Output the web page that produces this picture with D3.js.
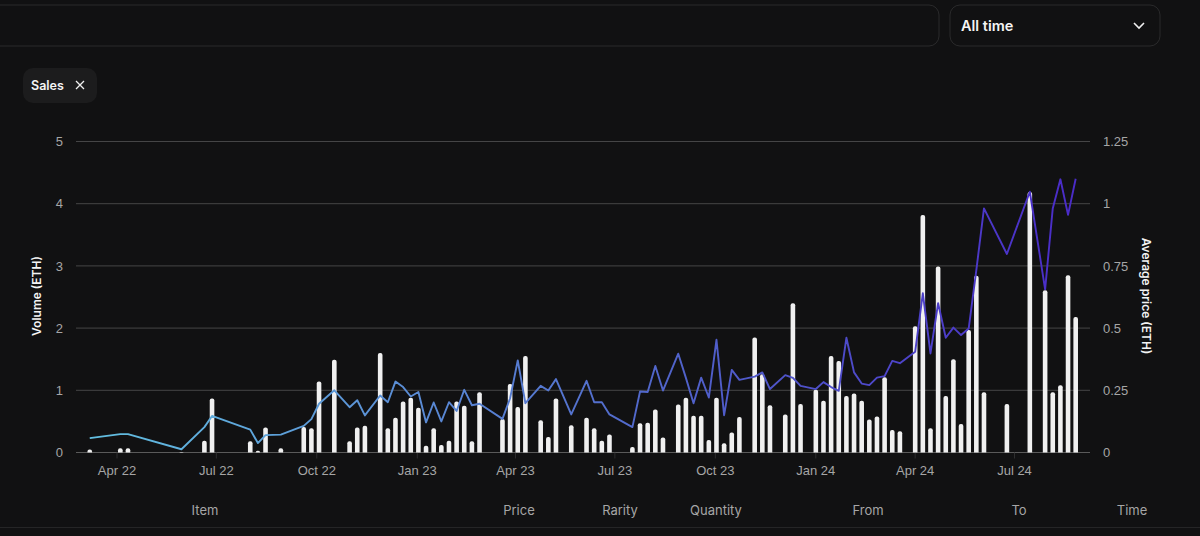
<!DOCTYPE html>
<html>
<head>
<meta charset="utf-8">
<script src="https://cdn.jsdelivr.net/npm/d3@7"></script>
<style>
  html, body { margin: 0; padding: 0; background: #111112; overflow: hidden; }
  svg { display: block; font-family: Inter, "Noto Sans", sans-serif; }
</style>
</head>
<body>
<script>
// weeks counted from the first sale (7 Mar 22)
var firstWeek = new Date(Date.UTC(2022, 2, 7, 12));

var weeks = [
  0, 4, 5, 12, 15, 16, 21, 22, 23, 25,
  28, 29, 30, 32, 34, 35, 36, 38, 39, 40,
  41, 42, 43, 44, 45, 46, 47, 48, 49, 50,
  51, 54, 55, 56, 57, 59, 60, 61, 63, 65,
  66, 67, 68, 71, 72, 73, 74, 75, 77, 78,
  79, 80, 81, 82, 83, 84, 85, 87, 88, 89,
  91, 92, 93, 95, 96, 97, 98, 99, 100, 101,
  102, 103, 104, 105, 106, 108, 109, 110, 111, 112,
  113, 114, 115, 116, 117, 120, 123, 125, 126, 127,
  128, 129
];

var volume = [
  0.05, 0.07, 0.07, 0.01, 0.19, 0.87, 0.18, 0.03, 0.40, 0.07,
  0.41, 0.39, 1.14, 1.49, 0.18, 0.40, 0.43, 1.60, 0.39, 0.56,
  0.82, 0.88, 0.72, 0.11, 0.39, 0.12, 0.19, 0.82, 0.75, 0.18,
  0.97, 0.54, 1.10, 0.73, 1.55, 0.52, 0.25, 0.87, 0.44, 0.56,
  0.39, 0.19, 0.29, 0.09, 0.47, 0.48, 0.69, 0.24, 0.77, 0.88,
  0.59, 0.59, 0.20, 0.88, 0.15, 0.32, 0.57, 1.85, 1.26, 0.76,
  0.61, 2.40, 0.78, 1.01, 0.83, 1.55, 1.47, 0.91, 0.95, 0.83,
  0.53, 0.58, 1.21, 0.36, 0.34, 2.03, 3.82, 0.39, 2.99, 0.91,
  1.50, 0.46, 1.97, 2.84, 0.97, 0.78, 4.19, 2.61, 0.97, 1.08,
  2.85, 2.18
];

var avgPrice = [
  0.058, 0.074, 0.074, 0.013, 0.102, 0.147, 0.092, 0.038, 0.070, 0.072,
  0.107, 0.134, 0.196, 0.250, 0.182, 0.210, 0.149, 0.229, 0.202, 0.285,
  0.263, 0.225, 0.243, 0.121, 0.201, 0.125, 0.202, 0.167, 0.252, 0.190,
  0.196, 0.135, 0.218, 0.370, 0.198, 0.268, 0.249, 0.295, 0.153, 0.288,
  0.202, 0.202, 0.153, 0.102, 0.245, 0.243, 0.348, 0.249, 0.397, 0.300,
  0.198, 0.301, 0.221, 0.453, 0.150, 0.332, 0.292, 0.305, 0.322, 0.255,
  0.311, 0.300, 0.268, 0.255, 0.283, 0.263, 0.248, 0.461, 0.322, 0.277,
  0.271, 0.301, 0.307, 0.368, 0.359, 0.405, 0.640, 0.398, 0.600, 0.461,
  0.502, 0.472, 0.498, 0.733, 0.981, 0.798, 1.048, 0.656, 0.981, 1.098,
  0.955, 1.100
];

var monthTicks = ["2022-04-01", "2022-07-01", "2022-10-01", "2023-01-01", "2023-04-01",
  "2023-07-01", "2023-10-01", "2024-01-01", "2024-04-01", "2024-07-01"];
var volumeTicks = [0, 1, 2, 3, 4, 5];
var priceTicks = [0, 0.25, 0.5, 0.75, 1, 1.25];

var columnNames = ["Item", "Price", "Rarity", "Quantity", "From", "To", "Time"];
var columnX = [205, 519, 620, 716, 868, 1019, 1132];

var w = 1200,
    h = 536,
    left = 76,
    right = 1090,
    top_ = 141.5,
    bottom = 452.5,
    barWidth = 4.6;

var rows = weeks.map(function(k, i) {
  return { date: d3.utcDay.offset(firstWeek, k * 7), volume: volume[i], price: avgPrice[i] };
});

var x = d3.scaleUtc()
    .domain([new Date("2022-04-01"), new Date("2024-07-01")])
    .range([116.5, 1014]);
var yVol = d3.scaleLinear().domain([0, 5]).range([bottom, top_]);
var yPrice = d3.scaleLinear().domain([0, 1.25]).range([bottom, top_]);

var svg = d3.select("body").append("svg")
    .attr("width", w)
    .attr("height", h);

var defs = svg.append("defs");
var grad = defs.append("linearGradient")
    .attr("id", "lineColor")
    .attr("gradientUnits", "userSpaceOnUse")
    .attr("x1", 89).attr("x2", 1075).attr("y1", 0).attr("y2", 0);
grad.append("stop").attr("offset", "0").attr("stop-color", "#62bfe0");
grad.append("stop").attr("offset", "0.3").attr("stop-color", "#5b90d6");
grad.append("stop").attr("offset", "0.6").attr("stop-color", "#5062ca");
grad.append("stop").attr("offset", "1").attr("stop-color", "#4a2bc8");
defs.append("clipPath").attr("id", "plotClip")
  .append("rect").attr("x", left).attr("y", 0).attr("width", right - left).attr("height", bottom);

// page furniture
svg.append("rect").attr("x", -20).attr("y", 5).attr("width", 959).attr("height", 41).attr("rx", 10)
    .attr("fill", "none").attr("stroke", "#2a2a2b");
svg.append("rect").attr("x", 950).attr("y", 5).attr("width", 210).attr("height", 41).attr("rx", 10)
    .attr("fill", "none").attr("stroke", "#2a2a2b");
svg.append("text").attr("x", 961).attr("y", 31).attr("fill", "#f4f4f4")
    .attr("font-size", 14.5).attr("font-weight", 600).text("All time");
svg.append("path").attr("d", "M1134 23l5 5l5-5").attr("fill", "none")
    .attr("stroke", "#f0f0f0").attr("stroke-width", 1.6);

svg.append("rect").attr("x", 23).attr("y", 68).attr("width", 74).attr("height", 35).attr("rx", 10)
    .attr("fill", "#1c1c1d");
svg.append("text").attr("x", 31).attr("y", 90).attr("fill", "#f4f4f4")
    .attr("font-size", 12.5).attr("font-weight", 600).text("Sales");
svg.append("path").attr("d", "M76 81l8 8M84 81l-8 8").attr("fill", "none")
    .attr("stroke", "#f0f0f0").attr("stroke-width", 1.3);

// axes
var gridAxis = svg.append("g")
    .attr("transform", "translate(" + right + ",0)")
    .call(d3.axisRight(yPrice).tickValues(priceTicks).tickSize(0).tickPadding(13)
      .tickFormat(d3.format("~g")));
gridAxis.select(".domain").remove();
gridAxis.selectAll("text").attr("fill", "#a6a6a6").attr("font-size", 13).attr("font-family", null);

var volAxis = svg.append("g")
    .attr("transform", "translate(" + left + ",0)")
    .call(d3.axisLeft(yVol).tickValues(volumeTicks).tickSize(0).tickPadding(13)
      .tickFormat(d3.format("d")));
volAxis.select(".domain").remove();
volAxis.selectAll("text").attr("fill", "#a6a6a6").attr("font-size", 13).attr("font-family", null);

svg.append("g").selectAll("line")
    .data(volumeTicks)
    .enter().append("line")
    .attr("x1", left).attr("x2", right)
    .attr("y1", function(d) { return yVol(d); })
    .attr("y2", function(d) { return yVol(d); })
    .attr("stroke", function(d) { return d === 0 ? "#5a5a5a" : "#454546"; });

var timeAxis = svg.append("g")
    .attr("transform", "translate(0," + bottom + ")")
    .call(d3.axisBottom(x)
      .tickValues(monthTicks.map(function(d) { return new Date(d); }))
      .tickSize(6).tickPadding(7)
      .tickFormat(d3.utcFormat("%b %y")));
timeAxis.select(".domain").remove();
timeAxis.selectAll("line").attr("stroke", "#2e2e2f");
timeAxis.selectAll("text").attr("fill", "#a6a6a6").attr("font-size", 13).attr("font-family", null);

// bars, taller than needed then clipped so only the top is rounded
svg.append("g").attr("clip-path", "url(#plotClip)")
  .selectAll("rect")
    .data(rows)
    .enter().append("rect")
    .attr("x", function(d) { return x(d.date) - barWidth / 2; })
    .attr("y", function(d) { return yVol(d.volume); })
    .attr("width", barWidth)
    .attr("height", function(d) { return bottom - yVol(d.volume) + 4; })
    .attr("rx", 2)
    .attr("fill", "#f0f0f0");

var line = d3.line()
    .x(function(d) { return x(d.date); })
    .y(function(d) { return yPrice(d.price); });

svg.append("path")
    .datum(rows)
    .attr("d", line)
    .attr("fill", "none")
    .attr("stroke", "url(#lineColor)")
    .attr("stroke-width", 1.9)
    .attr("stroke-linejoin", "round");

// axis titles
svg.append("text")
    .attr("transform", "translate(41,296) rotate(-90)")
    .attr("text-anchor", "middle")
    .attr("fill", "#f4f4f4").attr("font-size", 12).attr("font-weight", 600)
    .text("Volume (ETH)");
svg.append("text")
    .attr("transform", "translate(1142,296) rotate(90)")
    .attr("text-anchor", "middle")
    .attr("fill", "#f4f4f4").attr("font-size", 12).attr("font-weight", 600)
    .text("Average price (ETH)");

// table header under the chart
svg.append("g").selectAll("text")
    .data(columnNames)
    .enter().append("text")
    .attr("x", function(d, i) { return columnX[i]; })
    .attr("y", 515)
    .attr("text-anchor", "middle")
    .attr("fill", "#a6a6a6").attr("font-size", 13)
    .text(function(d) { return d; });
svg.append("line").attr("x1", 0).attr("x2", w).attr("y1", 527.5).attr("y2", 527.5)
    .attr("stroke", "#252526");
</script>
</body>
</html>
